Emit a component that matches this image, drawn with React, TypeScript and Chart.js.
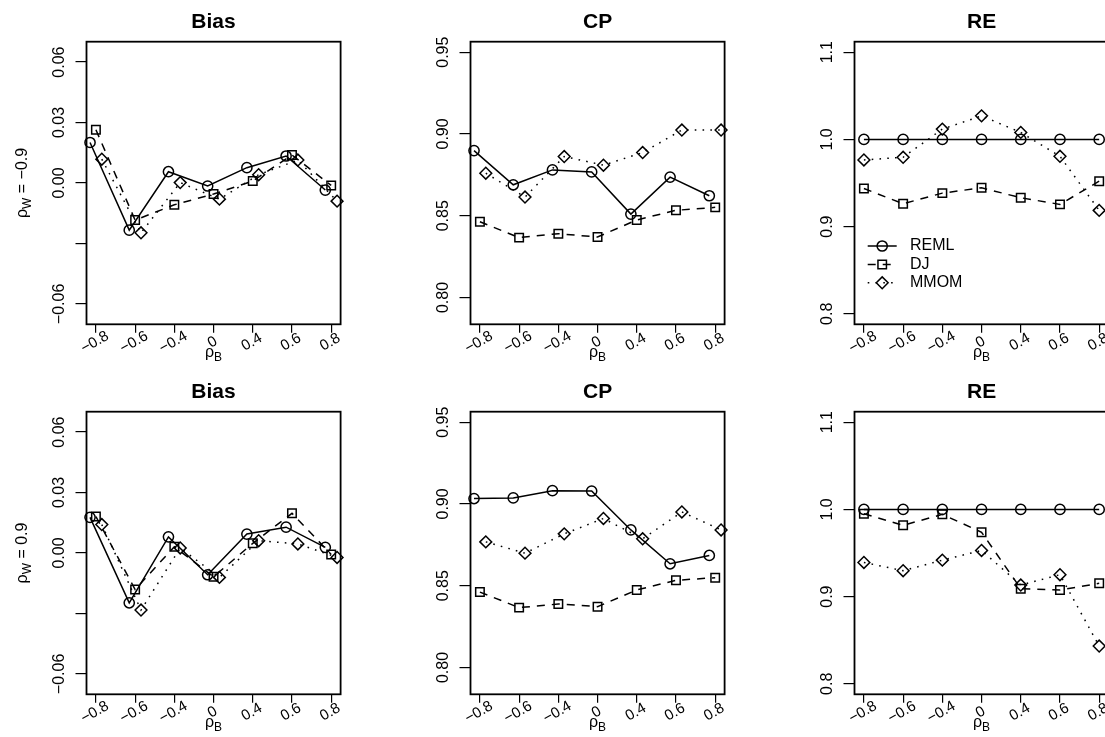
import { useEffect, useRef } from "react";
import { Chart, registerables } from "chart.js";

Chart.register(...registerables);

const FONT = "'Liberation Sans', Arial, Helvetica, sans-serif";

// categories (rho_B) and their printed labels
const rhoB = [-0.8, -0.6, -0.4, 0, 0.4, 0.6, 0.8];
const xTickLabels = ["\u22120.8", "\u22120.6", "\u22120.4", "0", "0.4", "0.6", "0.8"];
const methods = ["REML", "DJ", "MMOM"];

// rho_W = -0.9
const biasNegREML = [0.0201, -0.0234, 0.0056, -0.0015, 0.0076, 0.0134, -0.0035];
const biasNegDJ = [0.0264, -0.0184, -0.0108, -0.0055, 0.001, 0.0139, -0.0012];
const biasNegMMOM = [0.0118, -0.0247, 0.0002, -0.008, 0.0041, 0.0114, -0.009];
const cpNegREML = [0.8898, 0.8689, 0.878, 0.8768, 0.851, 0.8736, 0.8622];
const cpNegDJ = [0.8463, 0.8366, 0.839, 0.837, 0.8474, 0.8533, 0.8551];
const cpNegMMOM = [0.876, 0.8614, 0.8862, 0.8809, 0.8886, 0.9024, 0.9024];
const reNegREML = [1, 1, 1, 1, 1, 1, 1];
const reNegDJ = [0.9437, 0.9262, 0.9384, 0.9445, 0.9331, 0.9255, 0.9521];
const reNegMMOM = [0.9764, 0.9795, 1.0118, 1.027, 1.008, 0.9806, 0.9186];

// rho_W = 0.9
const biasPosREML = [0.0177, -0.0247, 0.008, -0.0108, 0.0094, 0.0128, 0.0028];
const biasPosDJ = [0.0181, -0.0181, 0.0031, -0.0118, 0.0048, 0.0197, -0.0007];
const biasPosMMOM = [0.0141, -0.0283, 0.0025, -0.0121, 0.0061, 0.0045, -0.0022];
const cpPosREML = [0.9033, 0.9037, 0.9081, 0.9079, 0.8841, 0.8634, 0.8685];
const cpPosDJ = [0.8461, 0.8366, 0.8388, 0.8372, 0.8474, 0.8533, 0.8549];
const cpPosMMOM = [0.8768, 0.8699, 0.8817, 0.8911, 0.8787, 0.8951, 0.8841];
const rePosREML = [1, 1, 1, 1, 1, 1, 1];
const rePosDJ = [0.9951, 0.9817, 0.9943, 0.9738, 0.9091, 0.9076, 0.9152];
const rePosMMOM = [0.9392, 0.9297, 0.9418, 0.9529, 0.9133, 0.9251, 0.8433];

// y tick values and labels
const biasTicks = [-0.06, -0.03, 0, 0.03, 0.06];
const biasTickLabels = ["\u22120.06", "", "0.00", "0.03", "0.06"];
const cpTicks = [0.8, 0.85, 0.9, 0.95];
const cpTickLabels = ["0.80", "0.85", "0.90", "0.95"];
const reTicks = [0.8, 0.9, 1.0, 1.1];
const reTickLabels = ["0.8", "0.9", "1.0", "1.1"];

// styles
const dashes: number[][] = [[], [8, 7], [1.6, 6.2]];
const pointStyles = ["circle", "rect", "rectRot"];
const pointRadii = [5.1, 6.0, 5.9];
const jitter = [-0.15, 0, 0.15];
const noJitter = [0, 0, 0];
const LW = 1.5;

const CW = 384;
const CH = 370;
const colLeft = [0, 384, 768];
const rowTop = [0, 370];
const PAD = { left: 86.5, top: 41.7, right: CW - 86.5 - 254.1, bottom: CH - 41.7 - 282.6 };

type PanelDef = {
  title: string;
  series: number[][];
  yMin: number;
  yMax: number;
  yTicks: number[];
  yTickLabels: string[];
  offsets: number[];
  yTitle: string | null;
  legend: boolean;
  row: number;
  col: number;
};

const panels: PanelDef[] = [
  { title: "Bias", series: [biasNegREML, biasNegDJ, biasNegMMOM], yMin: -0.0701, yMax: 0.0701, yTicks: biasTicks, yTickLabels: biasTickLabels, offsets: jitter, yTitle: "\u22120.9", legend: false, row: 0, col: 0 },
  { title: "CP", series: [cpNegREML, cpNegDJ, cpNegMMOM], yMin: 0.7836, yMax: 0.9564, yTicks: cpTicks, yTickLabels: cpTickLabels, offsets: jitter, yTitle: null, legend: false, row: 0, col: 1 },
  { title: "RE", series: [reNegREML, reNegDJ, reNegMMOM], yMin: 0.788, yMax: 1.112, yTicks: reTicks, yTickLabels: reTickLabels, offsets: noJitter, yTitle: null, legend: true, row: 0, col: 2 },
  { title: "Bias", series: [biasPosREML, biasPosDJ, biasPosMMOM], yMin: -0.0701, yMax: 0.0701, yTicks: biasTicks, yTickLabels: biasTickLabels, offsets: jitter, yTitle: "0.9", legend: false, row: 1, col: 0 },
  { title: "CP", series: [cpPosREML, cpPosDJ, cpPosMMOM], yMin: 0.7836, yMax: 0.9564, yTicks: cpTicks, yTickLabels: cpTickLabels, offsets: jitter, yTitle: null, legend: false, row: 1, col: 1 },
  { title: "RE", series: [rePosREML, rePosDJ, rePosMMOM], yMin: 0.788, yMax: 1.112, yTicks: reTicks, yTickLabels: reTickLabels, offsets: noJitter, yTitle: null, legend: false, row: 1, col: 2 },
];

function drawSub(ctx: CanvasRenderingContext2D, base: string, sub: string, rest: string, cx: number, y: number) {
  const big = `16px ${FONT}`;
  const small = `12px ${FONT}`;
  ctx.font = big;
  const w1 = ctx.measureText(base).width;
  const w3 = rest ? ctx.measureText(rest).width : 0;
  ctx.font = small;
  const w2 = ctx.measureText(sub).width;
  let x = cx - (w1 + w2 + w3) / 2;
  ctx.textAlign = "left";
  ctx.textBaseline = "alphabetic";
  ctx.font = big;
  ctx.fillText(base, x, y);
  x += w1;
  ctx.font = small;
  ctx.fillText(sub, x, y + 4);
  x += w2;
  if (rest) {
    ctx.font = big;
    ctx.fillText(rest, x, y);
  }
}

function drawMarker(ctx: CanvasRenderingContext2D, style: string, x: number, y: number, r: number) {
  ctx.beginPath();
  if (style === "circle") {
    ctx.arc(x, y, r, 0, Math.PI * 2);
  } else if (style === "rect") {
    const s = r * Math.SQRT1_2;
    ctx.rect(x - s, y - s, 2 * s, 2 * s);
  } else {
    ctx.moveTo(x - r, y);
    ctx.lineTo(x, y - r);
    ctx.lineTo(x + r, y);
    ctx.lineTo(x, y + r);
    ctx.closePath();
  }
  ctx.stroke();
}

function makePlugin(p: PanelDef) {
  return {
    id: "rpanel",
    afterDraw(chart: any) {
      const { ctx, chartArea: a, scales } = chart;
      const xs = scales.x;
      const ys = scales.y;
      ctx.save();
      ctx.fillStyle = "#000";
      ctx.strokeStyle = "#000";
      ctx.setLineDash([]);
      ctx.lineWidth = 1.8;
      ctx.strokeRect(a.left, a.top, a.right - a.left, a.bottom - a.top);

      ctx.font = `bold 21px ${FONT}`;
      ctx.textAlign = "center";
      ctx.textBaseline = "alphabetic";
      ctx.fillText(p.title, (a.left + a.right) / 2, a.top - 14.2);

      ctx.font = `16px ${FONT}`;
      p.yTicks.forEach((v, i) => {
        const lab = p.yTickLabels[i];
        if (!lab) return;
        const py = ys.getPixelForValue(v);
        ctx.save();
        ctx.translate(a.left - 23, py);
        ctx.rotate(-Math.PI / 2);
        ctx.textAlign = "center";
        ctx.textBaseline = "alphabetic";
        ctx.fillText(lab, 0, 0);
        ctx.restore();
      });

      ctx.font = `15px ${FONT}`;
      xTickLabels.forEach((lab, i) => {
        const px = xs.getPixelForValue(i + 1);
        ctx.save();
        ctx.translate(px - 1, a.bottom + 18);
        ctx.rotate(-Math.PI / 6);
        ctx.textAlign = "center";
        ctx.textBaseline = "middle";
        ctx.fillText(lab, 0, 0);
        ctx.restore();
      });

      drawSub(ctx, "\u03C1", "B", "", (a.left + a.right) / 2, a.bottom + 33);

      if (p.yTitle) {
        ctx.save();
        ctx.translate(a.left - 59.5, (a.top + a.bottom) / 2);
        ctx.rotate(-Math.PI / 2);
        drawSub(ctx, "\u03C1", "W", " = " + p.yTitle, 0, 0);
        ctx.restore();
      }

      if (p.legend) {
        methods.forEach((name, k) => {
          const y = a.top + 204.3 + k * 18.4;
          const x0 = a.left + 13.2;
          const x1 = a.left + 42.2;
          ctx.lineWidth = LW;
          ctx.setLineDash(dashes[k]);
          ctx.beginPath();
          ctx.moveTo(x0, y);
          ctx.lineTo(x1, y);
          ctx.stroke();
          ctx.setLineDash([]);
          drawMarker(ctx, pointStyles[k], (x0 + x1) / 2, y, pointRadii[k]);
          ctx.font = `16px ${FONT}`;
          ctx.textAlign = "left";
          ctx.textBaseline = "middle";
          ctx.fillText(name, a.left + 55.5, y);
        });
      }
      ctx.restore();
    },
  };
}

function Panel({ def }: { def: PanelDef }) {
  const ref = useRef<HTMLCanvasElement>(null);
  useEffect(() => {
    const datasets = methods.map((name, k) => ({
      label: name,
      data: def.series[k].map((v, i) => ({ x: i + 1 + def.offsets[k], y: v })),
      borderColor: "#000",
      backgroundColor: "rgba(0,0,0,0)",
      borderWidth: LW,
      borderDash: dashes[k],
      pointStyle: pointStyles[k],
      pointRadius: pointRadii[k],
      pointBorderWidth: LW,
      pointBorderColor: "#000",
      pointBackgroundColor: "rgba(0,0,0,0)",
      tension: 0,
      fill: false,
      clip: false,
    }));
    const chart = new Chart(ref.current as HTMLCanvasElement, {
      type: "line",
      data: { datasets } as any,
      options: {
        responsive: false,
        animation: false,
        devicePixelRatio: 1,
        events: [],
        layout: { padding: PAD },
        plugins: { legend: { display: false }, title: { display: false }, tooltip: { enabled: false } },
        scales: {
          x: {
            type: "linear",
            min: 0.76,
            max: 7.24,
            afterBuildTicks: (s: any) => {
              s.ticks = rhoB.map((_, i) => ({ value: i + 1 }));
            },
            afterFit: (s: any) => {
              s.height = 0;
            },
            ticks: { display: false },
            grid: { drawOnChartArea: false, drawTicks: true, tickLength: 8.5, color: "#000", lineWidth: 1.2 },
            border: { display: false },
          },
          y: {
            type: "linear",
            min: def.yMin,
            max: def.yMax,
            afterBuildTicks: (s: any) => {
              s.ticks = def.yTicks.map((v) => ({ value: v }));
            },
            afterFit: (s: any) => {
              s.width = 0;
            },
            ticks: { display: false },
            grid: { drawOnChartArea: false, drawTicks: true, tickLength: 11, color: "#000", lineWidth: 1.2 },
            border: { display: false },
          },
        },
      } as any,
      plugins: [makePlugin(def)],
    });
    return () => chart.destroy();
  }, [def]);
  return (
    <canvas
      ref={ref}
      width={CW}
      height={CH}
      style={{ position: "absolute", left: colLeft[def.col], top: rowTop[def.row], width: CW, height: CH }}
    />
  );
}

export default function App() {
  return (
    <div
      style={{
        position: "fixed",
        left: 0,
        top: 0,
        width: 1105,
        height: 737,
        overflow: "hidden",
        background: "#fff",
      }}
    >
      {panels.map((p, i) => (
        <Panel key={i} def={p} />
      ))}
    </div>
  );
}
